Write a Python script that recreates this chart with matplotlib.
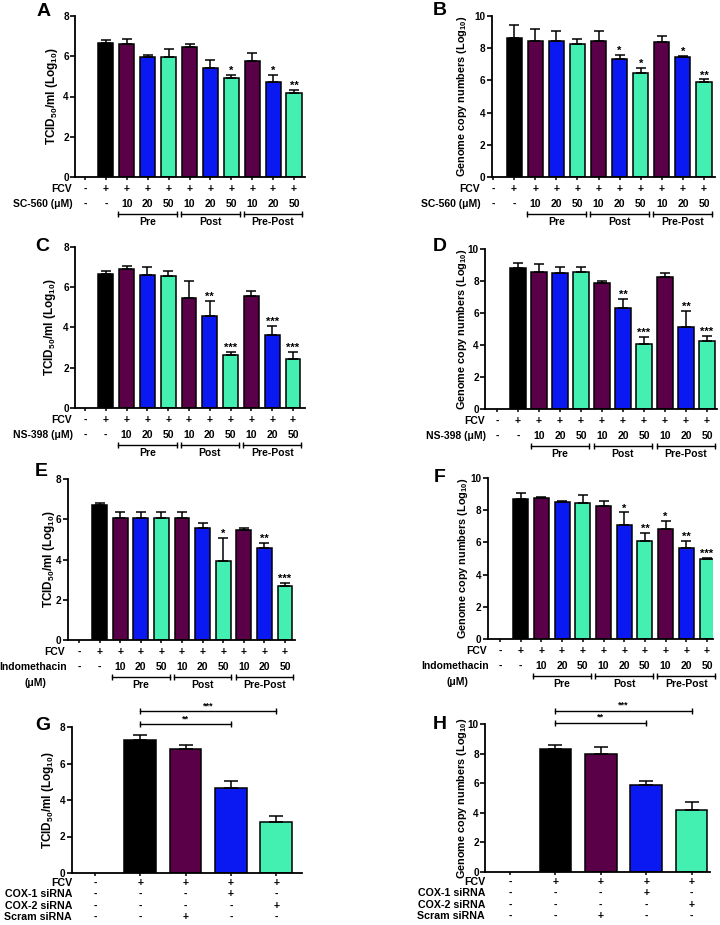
import matplotlib
matplotlib.use("Agg")
import matplotlib.pyplot as plt
from matplotlib.transforms import offset_copy

plt.rcParams['font.family'] = ['Liberation Sans', 'DejaVu Sans']
plt.rcParams['font.weight'] = 'bold'
plt.rcParams['mathtext.fontset'] = 'custom'
plt.rcParams['mathtext.rm'] = 'Liberation Sans:bold'
plt.rcParams['mathtext.bf'] = 'Liberation Sans:bold'
plt.rcParams['mathtext.default'] = 'bf'

# ---- data ----
sc560_titer = [6.67, 6.59, 5.94, 5.94, 6.44, 5.43, 4.93, 5.76, 4.70, 4.18]
sc560_titer_err = [0.13, 0.25, 0.12, 0.42, 0.15, 0.38, 0.13, 0.41, 0.36, 0.14]
sc560_titer_sig = ['', '', '', '', '', '', '*', '', '*', '**']

sc560_copies = [8.61, 8.46, 8.46, 8.24, 8.44, 7.30, 6.43, 8.40, 7.43, 5.91]
sc560_copies_err = [0.83, 0.71, 0.61, 0.31, 0.63, 0.27, 0.37, 0.38, 0.08, 0.15]
sc560_copies_sig = ['', '', '', '', '', '*', '*', '', '*', '**']

ns398_titer = [6.67, 6.92, 6.62, 6.54, 5.46, 4.57, 2.65, 5.55, 3.64, 2.45]
ns398_titer_err = [0.12, 0.12, 0.38, 0.25, 0.83, 0.73, 0.13, 0.24, 0.43, 0.33]
ns398_titer_sig = ['', '', '', '', '', '**', '***', '', '***', '***']

ns398_copies = [8.83, 8.58, 8.52, 8.58, 7.90, 6.33, 4.04, 8.23, 5.15, 4.27]
ns398_copies_err = [0.27, 0.46, 0.38, 0.32, 0.10, 0.55, 0.48, 0.25, 0.98, 0.29]
ns398_copies_sig = ['', '', '', '', '', '**', '***', '', '**', '***']

indo_titer = [6.69, 6.06, 6.06, 6.06, 6.06, 5.56, 3.93, 5.48, 4.56, 2.69]
indo_titer_err = [0.11, 0.28, 0.28, 0.28, 0.28, 0.25, 1.13, 0.11, 0.25, 0.13]
indo_titer_sig = ['', '', '', '', '', '', '*', '', '**', '***']

indo_copies = [8.69, 8.76, 8.51, 8.44, 8.24, 7.10, 6.06, 6.85, 5.64, 4.98]
indo_copies_err = [0.38, 0.06, 0.08, 0.52, 0.31, 0.76, 0.52, 0.49, 0.46, 0.08]
indo_copies_sig = ['', '', '', '', '', '*', '**', '*', '**', '***']

sirna_titer = [7.31, 6.78, 4.67, 2.82]
sirna_titer_err = [0.24, 0.26, 0.38, 0.31]
sirna_copies = [8.33, 8.00, 5.90, 4.21]
sirna_copies_err = [0.27, 0.45, 0.23, 0.52]
# (from slot, to slot, y, label)
sirna_titer_brackets = [(1, 3, 8.15, '**'), (1, 4, 8.87, '***')]
sirna_copies_brackets = [(1, 3, 10.07, '**'), (1, 4, 10.88, '***')]

fcv_row = ['-', '+', '+', '+', '+', '+', '+', '+', '+', '+', '+']
conc_row = ['-', '-', '10', '20', '50', '10', '20', '50', '10', '20', '50']
groups = [('Pre', 2, 4), ('Post', 5, 7), ('Pre-Post', 8, 10)]

sirna_rows = [
    ('FCV', ['-', '+', '+', '+', '+']),
    ('COX-1 siRNA', ['-', '-', '-', '+', '-']),
    ('COX-2 siRNA', ['-', '-', '-', '-', '+']),
    ('Scram siRNA', ['-', '-', '+', '-', '-']),
]

BLACK = '#000000'
PURPLE = '#5a0048'
BLUE = '#0a18f2'
GREEN = '#43efb1'
drug_colors = [BLACK, PURPLE, BLUE, GREEN, PURPLE, BLUE, GREEN, PURPLE, BLUE, GREEN]
sirna_colors = [BLACK, PURPLE, BLUE, GREEN]

TITER_LABEL = r'TCID$_{50}$/ml (Log$_{10}$)'
COPY_LABEL = r'Genome copy numbers (Log$_{10}$)'

W, H = 720, 925
fig = plt.figure(figsize=(W / 100, H / 100), dpi=100)


def make_axes(left, top, right, bottom, slot0, spacing, ymax, n_slots):
    ax = fig.add_axes([left / W, 1 - bottom / H, (right - left) / W, (bottom - top) / H])
    x_lo = -(slot0 - left) / spacing
    x_hi = (right - slot0) / spacing
    ax.set_xlim(x_lo, x_hi)
    ax.set_ylim(0, ymax)
    for s in ['top', 'right']:
        ax.spines[s].set_visible(False)
    for s in ['left', 'bottom']:
        ax.spines[s].set_linewidth(1.3)
    ax.set_xticks(range(n_slots))
    ax.set_xticklabels([])
    ax.set_yticks(range(0, ymax + 1, 2))
    ax.tick_params(axis='y', length=3.5, width=1.2, labelsize=7.2, pad=1)
    ax.tick_params(axis='x', length=2.5, width=1.1)
    for lab in ax.get_yticklabels():
        lab.set_fontweight('bold')
    return ax


def draw_bars(ax, xs, vals, errs, colors, width, capsize):
    ax.bar(xs, vals, width=width, color=colors, edgecolor='black', linewidth=1.1, zorder=2)
    ax.errorbar(xs, vals, yerr=[[0] * len(vals), errs], fmt='none', ecolor='black',
                elinewidth=1.1, capsize=capsize, capthick=1.1, zorder=3)


def put_stars(ax, xs, vals, errs, sigs):
    for x, v, e, s in zip(xs, vals, errs, sigs):
        if s:
            ax.annotate(s, xy=(x, v + e), xytext=(0, -1), textcoords='offset pixels',
                        ha='center', va='bottom', fontsize=8, fontweight='bold')


def row_text(ax, x, dy, txt, size=7.5, ha='center'):
    tr = offset_copy(ax.get_xaxis_transform(), fig=fig, x=0, y=-dy, units='dots')
    ax.text(x, 0, txt, transform=tr, ha=ha, va='center', fontsize=size,
            fontweight='bold', clip_on=False)


def left_label(ax, dx, dy, txt, size=7.5, ha='right'):
    tr = offset_copy(ax.transAxes, fig=fig, x=dx, y=-dy, units='dots')
    ax.text(0, 0, txt, transform=tr, ha=ha, va='center', fontsize=size,
            fontweight='bold', clip_on=False)


def panel_text(ax, rect, ylabel, ylab_dx, letter, letter_xy):
    left, top, right, bottom = rect
    ylab_size = 8.5 if 'TCID' in ylabel else 7.8
    ax.text(-ylab_dx / (right - left), 0.5, ylabel, transform=ax.transAxes,
            rotation=90, ha='center', va='center', fontsize=ylab_size, fontweight='bold')
    fig.text(letter_xy[0] / W, 1 - letter_xy[1] / H, letter, fontsize=14,
             fontweight='bold', ha='left', va='top')


def drug_panel(rect, slot0, spacing, ymax, ylabel, ylab_dx, letter, letter_xy,
               vals, errs, sigs, drug, lab_dx=-3, two_line=False):
    left, top, right, bottom = rect
    ax = make_axes(left, top, right, bottom, slot0, spacing, ymax, 11)
    xs = list(range(1, 11))
    draw_bars(ax, xs, vals, errs, drug_colors, 0.72, 3.8)
    put_stars(ax, xs, vals, errs, sigs)
    panel_text(ax, rect, ylabel, ylab_dx, letter, letter_xy)

    for i in range(11):
        row_text(ax, i, 12, fcv_row[i])
        row_text(ax, i, 27, conc_row[i])
    left_label(ax, lab_dx, 12, 'FCV')
    if two_line:
        left_label(ax, lab_dx + 2, 27, drug)
        left_label(ax, lab_dx - 30, 43, u'(\u03bcM)', ha='center')
    else:
        left_label(ax, lab_dx + 1, 27, drug + u' (\u03bcM)')

    br_tr = offset_copy(ax.get_xaxis_transform(), fig=fig, x=0, y=-37, units='dots')
    for name, a, b in groups:
        ax.plot([a - 0.4, b + 0.4], [0, 0], transform=br_tr, color='black', lw=1.0,
                clip_on=False)
        ax.plot([a - 0.4, b + 0.4], [0, 0], transform=br_tr, color='black', lw=0,
                marker='|', markersize=4, markeredgewidth=1.0, clip_on=False)
        row_text(ax, (a + b) / 2, 45, name)
    return ax


def sirna_panel(rect, slot0, spacing, ymax, ylabel, ylab_dx, letter, letter_xy,
                vals, errs, brackets):
    left, top, right, bottom = rect
    ax = make_axes(left, top, right, bottom, slot0, spacing, ymax, 5)
    xs = list(range(1, 5))
    draw_bars(ax, xs, vals, errs, sirna_colors, 0.7, 5.2)
    panel_text(ax, rect, ylabel, ylab_dx, letter, letter_xy)

    for a, b, y, s in brackets:
        ax.plot([a, b], [y, y], color='black', lw=1.0, clip_on=False)
        ax.plot([a, b], [y, y], color='black', lw=0, marker='|', markersize=5,
                markeredgewidth=1.0, clip_on=False)
        ax.annotate(s, xy=((a + b) / 2, y), xytext=(0, 1), textcoords='offset pixels',
                    ha='center', va='bottom', fontsize=6.5, fontweight='bold',
                    annotation_clip=False)

    for r, (name, signs) in enumerate(sirna_rows):
        dy = 10 + 11.3 * r
        for i, s in enumerate(signs):
            row_text(ax, i, dy, s, size=7.5)
        left_label(ax, 0, dy, name, size=7.7)
    return ax


drug_panel((75, 16, 305, 177), 85, 20.9, 8, TITER_LABEL, 23, 'A', (37, 3),
           sc560_titer, sc560_titer_err, sc560_titer_sig, 'SC-560')
drug_panel((492, 16, 715, 177), 493, 21.1, 10, COPY_LABEL, 30, 'B', (433, 2),
           sc560_copies, sc560_copies_err, sc560_copies_sig, 'SC-560', lab_dx=-12)
drug_panel((75, 247, 305, 408), 85, 20.8, 8, TITER_LABEL, 25, 'C', (35, 238),
           ns398_titer, ns398_titer_err, ns398_titer_sig, 'NS-398')
drug_panel((485, 249, 717, 409), 497, 21.0, 10, COPY_LABEL, 23, 'D', (433, 238),
           ns398_copies, ns398_copies_err, ns398_copies_sig, 'NS-398', lab_dx=0)
drug_panel((68, 479, 295, 640), 79, 20.6, 8, TITER_LABEL, 19, 'E', (35, 463),
           indo_titer, indo_titer_err, indo_titer_sig, 'Indomethacin', lab_dx=-3,
           two_line=True)
drug_panel((488, 478, 713, 639), 500, 20.7, 10, COPY_LABEL, 25, 'F', (434, 469),
           indo_copies, indo_copies_err, indo_copies_sig, 'Indomethacin', lab_dx=-1,
           two_line=True)
sirna_panel((72, 727, 302, 873), 95, 45.3, 8, TITER_LABEL, 24, 'G', (35, 717),
            sirna_titer, sirna_titer_err, sirna_titer_brackets)
sirna_panel((485, 724, 710, 872), 510, 45.4, 10, COPY_LABEL, 23, 'H', (433, 716),
            sirna_copies, sirna_copies_err, sirna_copies_brackets)

fig.savefig('out.png', dpi=100)
